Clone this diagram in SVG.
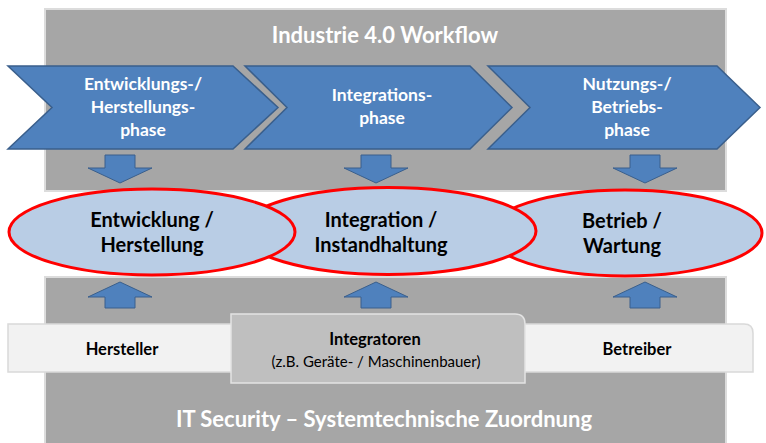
<svg xmlns="http://www.w3.org/2000/svg" width="766" height="443" viewBox="0 0 766 443">
<style>
text{font-family:Lato,"Liberation Sans",sans-serif;text-anchor:middle}
.bg{fill:#A6A6A6;stroke:#DCDCDC;stroke-width:2}
.chev{fill:#4F81BD;stroke:#3A5F8C;stroke-width:1.5}
.ct{fill:#FFFFFF;font-weight:bold;font-size:17.5px}
.hd{fill:#FFFFFF;font-weight:bold;font-size:22px}
.ell{fill:#B9CDE5;stroke:#FF0000;stroke-width:3}
.et{fill:#000000;font-weight:bold;font-size:20px}
.arr{fill:#4F81BD;stroke:#3A5F8C;stroke-width:1}
.bar{fill:#F2F2F2;stroke:#D9D9D9;stroke-width:1.5}
.tab{fill:#BFBFBF;stroke:#E3E3E3;stroke-width:1.5}
.bt{fill:#000000;font-weight:bold;font-size:16.5px}
.st{fill:#000000;font-size:15px}
</style>
<rect class="bg" x="45" y="9" width="681" height="182"/>
<rect class="bg" x="45" y="277" width="681" height="170"/>
<text class="hd" x="385" y="43">Industrie 4.0 Workflow</text>
<g id="phase1">
<polygon class="chev" points="8,66 233,66 278,107.5 233,149 8,149 52,107.5"/>
<text class="ct" x="143" y="90">Entwicklungs-/</text>
<text class="ct" x="143" y="113">Herstellungs-</text>
<text class="ct" x="143" y="136">phase</text>
</g>
<g id="phase2">
<polygon class="chev" points="245,66 470,66 512,107.5 470,149 245,149 287,107.5"/>
<text class="ct" x="382" y="101">Integrations-</text>
<text class="ct" x="382" y="124">phase</text>
</g>
<g id="phase3">
<polygon class="chev" points="488,66 717,66 760,107.5 717,149 488,149 530,107.5"/>
<text class="ct" x="627" y="90">Nutzungs-/</text>
<text class="ct" x="627" y="113">Betriebs-</text>
<text class="ct" x="627" y="136">phase</text>
</g>
<g id="connectors">
<polygon class="arr" points="105,155 135,155 135,168 152,168 120,183 88,168 105,168"/>
<polygon class="arr" points="361,155 391,155 391,168 408,168 376,183 344,168 361,168"/>
<polygon class="arr" points="630,155 660,155 660,168 677,168 645,183 613,168 630,168"/>
<polygon class="arr" points="105,308 135,308 135,297 152,297 120,282 88,297 105,297"/>
<polygon class="arr" points="361,308 391,308 391,297 408,297 376,282 344,297 361,297"/>
<polygon class="arr" points="630,308 660,308 660,297 677,297 645,282 613,297 630,297"/>
</g>
<g id="betrieb">
<ellipse class="ell" cx="625" cy="233" rx="137" ry="43"/>
<text class="et" x="622" y="228">Betrieb /</text>
<text class="et" x="622" y="253">Wartung</text>
</g>
<g id="integration">
<ellipse class="ell" cx="388" cy="231" rx="148" ry="43.5"/>
<text class="et" x="381" y="227">Integration /</text>
<text class="et" x="381" y="252">Instandhaltung</text>
</g>
<g id="entwicklung">
<ellipse class="ell" cx="152" cy="232" rx="143" ry="43"/>
<text class="et" x="152" y="227">Entwicklung /</text>
<text class="et" x="152" y="252">Herstellung</text>
</g>
<g id="roles">
<path class="bar" d="M8,324 H744 Q753,324 753,333 V372 H8 Z"/>
<text class="bt" x="122" y="355">Hersteller</text>
<text class="bt" x="637" y="355">Betreiber</text>
</g>
<g id="integratoren">
<path class="tab" d="M231,314 H515 Q525,314 525,324 V383 H231 Z"/>
<text class="bt" x="375" y="345">Integratoren</text>
<text class="st" x="376" y="367">(z.B. Geräte- / Maschinenbauer)</text>
</g>
<text class="hd" x="384" y="427">IT Security – Systemtechnische Zuordnung</text>
</svg>
